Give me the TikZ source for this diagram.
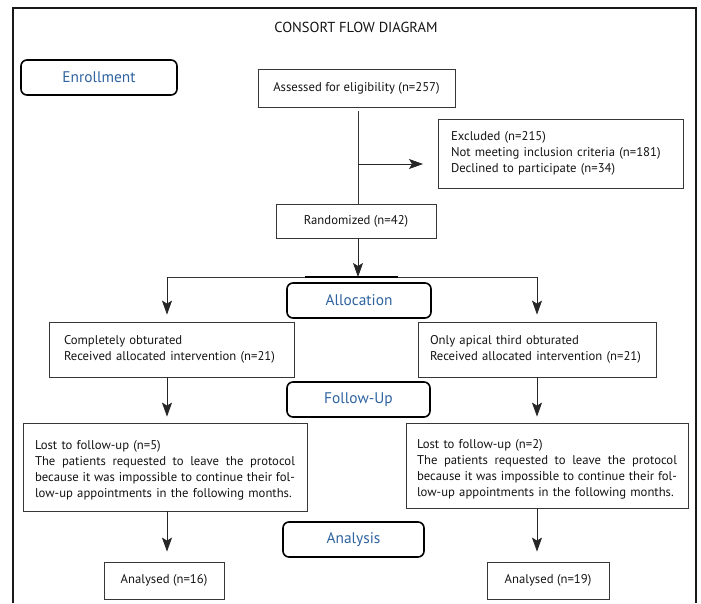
\documentclass[tikz,border=0pt]{standalone}
\usepackage{fontspec}
\setmainfont{PT Sans}
\usetikzlibrary{arrows.meta,calc}
\definecolor{hdrblue}{RGB}{46,99,160}
\definecolor{boxgray}{RGB}{55,55,55}
\definecolor{txt}{RGB}{20,20,20}
\newcommand{\jline}[1]{\leavevmode\hbox to 260pt{\spaceskip=0.25em plus 3em\relax #1}}
\tikzset{
  hdr/.style={draw=black, line width=1.6pt, rounded corners=6pt, minimum height=35pt, inner sep=0pt,
    text=hdrblue, font=\fontsize{15.4}{18}\selectfont},
  box/.style={draw=boxgray, line width=0.8pt, inner sep=0pt, text=txt, font=\fontsize{12.7}{16}\selectfont},
  conn/.style={draw=boxgray, line width=0.8pt},
  arr/.style={draw=black!85, line width=0.8pt, -{Stealth[length=14pt,width=10pt,inset=3pt]}},
}
\begin{document}
\begin{tikzpicture}[x=1pt,y=-1pt]
\useasboundingbox (0,0) rectangle (701,603);
% outer frame
\draw[line width=1.6pt, draw=black!90] (13,603) -- (13,8) -- (696,8) -- (696,603);
\node[text=txt, font=\fontsize{14.5}{17}\selectfont] (title) at (356,27) {CONSORT FLOW DIAGRAM};
% headers
\node[hdr, minimum width=156pt] (enr) at (99,77.5) {Enrollment};
\node[hdr, minimum width=144pt] (alloc) at (359,300.5) {Allocation};
\node[hdr, minimum width=143pt] (fup) at (358.5,399.5) {Follow-Up};
\node[hdr, minimum width=141pt] (ana) at (353.5,539.5) {Analysis};
% boxes
\node[box, minimum width=197pt, minimum height=38pt] (assess) at (356.5,88) {Assessed for eligibility (n=257)};
\node[box, minimum width=245pt, minimum height=69pt, align=left, text width=219pt] (excl) at (560.5,153.5)
  {Excluded (n=215)\\Not meeting inclusion criteria (n=181)\\Declined to participate (n=34)};
\node[box, minimum width=160pt, minimum height=34pt] (rand) at (356,221) {Randomized (n=42)};
\node[box, minimum width=245pt, minimum height=55pt, align=left, text width=215pt] (la) at (171.5,349.5)
  {Completely obturated\\Received allocated intervention (n=21)};
\node[box, minimum width=238pt, minimum height=55pt, align=left, text width=214pt] (ra) at (537,349.5)
  {Only apical third obturated\\Received allocated intervention (n=21)};
\node[box, minimum width=284pt, minimum height=88pt, align=left, text width=260pt] (ll) at (165,467)
  {\rule{0pt}{16pt}Lost to follow-up (n=5)\\
   \jline{The patients requested to leave the protocol}\\
   \jline{because it was impossible to continue their fol-}\\
   low-up appointments in the following months.};
\node[box, minimum width=282pt, minimum height=85pt, align=left, text width=260pt] (rl) at (547,465.5)
  {\rule{0pt}{16pt}Lost to follow-up (n=2)\\
   \jline{The patients requested to leave the protocol}\\
   \jline{because it was impossible to continue their fol-}\\
   low-up appointments in the following months.};
\node[box, minimum width=120pt, minimum height=37pt] (lan) at (164,580.5) {Analysed (n=16)};
\node[box, minimum width=122pt, minimum height=37pt] (ran) at (548,580.5) {Analysed (n=19)};
% connectors
\coordinate (vx) at (358,0);
\coordinate (jn) at (358,164);
\coordinate (jend) at (423,164);
\coordinate (split) at (358,277);
\coordinate (lsplit) at (167,277);
\coordinate (rsplit) at (537,277);
\coordinate (thl) at (305,277);
\coordinate (thr) at (398,277);
\draw[conn] (vx |- assess.south) ++(0,4) -- (vx |- rand.north);
\draw[arr] (jn) -- (jend);
\draw[arr] (vx |- rand.south) -- (split);
\draw[conn] (lsplit) -- (rsplit);
\draw[line width=2.4pt, black] (thl) -- (thr);
\draw[arr, shorten >=7pt] (lsplit) -- (lsplit |- la.north);
\draw[arr, shorten >=7pt] (rsplit) -- (rsplit |- ra.north);
\draw[arr, shorten >=6pt] (lsplit |- la.south) -- (lsplit |- ll.north);
\draw[arr, shorten >=6pt] (rsplit |- ra.south) -- (rsplit |- rl.north);
\draw[arr, shorten >=10pt] (lsplit |- ll.south) -- (lsplit |- lan.north);
\draw[arr, shorten >=10pt] (rsplit |- rl.south) -- (rsplit |- ran.north);
\end{tikzpicture}
\end{document}
